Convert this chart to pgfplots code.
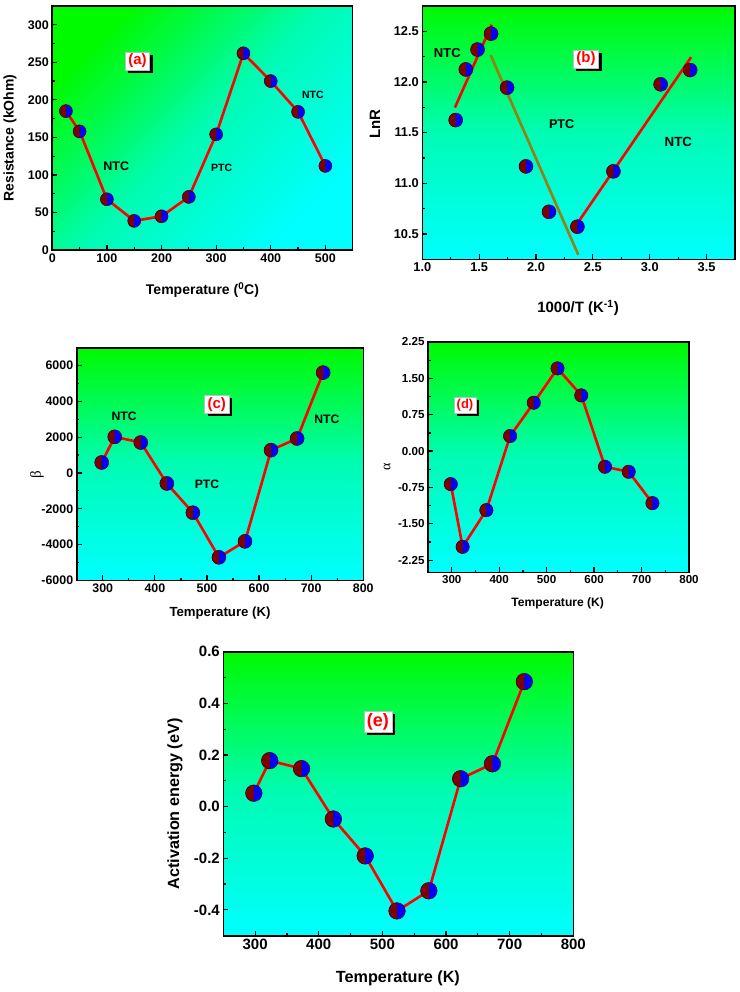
\documentclass[border=0pt]{standalone}
\usepackage{fontspec}
\setmainfont{Liberation Sans}
\newfontfamily\greekfont{Liberation Serif}
\usepackage{pgfplots}
\pgfplotsset{compat=1.18}
\usetikzlibrary{shadows}
\definecolor{gtop}{RGB}{0,250,0}
\definecolor{gmid}{RGB}{0,252,180}
\definecolor{cbot}{RGB}{0,255,255}
\definecolor{markred}{RGB}{125,0,0}
\definecolor{markblue}{RGB}{0,0,255}
\definecolor{markedge}{RGB}{60,0,20}
\definecolor{olivel}{RGB}{150,128,20}
\newcommand{\fs}[1]{\fontsize{#1}{#1}\selectfont}
\pgfdeclareplotmark{halfLR}{%
  \pgfpathcircle{\pgfpointorigin}{\pgfplotmarksize}%
  \pgfsetfillcolor{markblue}%
  \pgfusepathqfill
  \pgfpathmoveto{\pgfqpoint{0pt}{\pgfplotmarksize}}%
  \pgfpatharc{90}{270}{\pgfplotmarksize}%
  \pgfpathclose
  \pgfsetfillcolor{markred}%
  \pgfusepathqfill
  \pgfsetlinewidth{0.5pt}%
  \pgfsetstrokecolor{markedge}%
  \pgfpathcircle{\pgfpointorigin}{\pgfplotmarksize}%
  \pgfusepathqstroke
}
\tikzset{
  lab/.style={draw=gray!50, fill=white, text=red, inner xsep=3pt, inner ysep=2pt,
    drop shadow={shadow xshift=3pt, shadow yshift=-3pt, opacity=1, fill=black}},
}
\pgfplotsset{
  panel/.style={
    scale only axis, anchor=north west,
    tick align=inside, tick pos=left, minor tick num=1,
    major tick length=5pt, minor tick length=2.7pt,
    tick style={black, line width=1.2pt},
    axis line style={line width=1.6pt},
    /pgf/number format/assume math mode=true,
    /pgf/number format/1000 sep={},
    axis background/.style={shade, top color=gtop, bottom color=cbot, middle color=gmid},
    clip=false,
  },
  dat/.style={red, line width=2.6pt, mark=halfLR},
}
\begin{document}
\begin{tikzpicture}
\useasboundingbox (0,0) rectangle (739pt,-992pt);
\fill[white] (0,0) rectangle (739pt,-992pt);
% (a)
\begin{axis}[panel, at={(52.3pt,-6pt)}, width=300.4pt, height=244pt,
  xmin=0, xmax=550, ymin=0, ymax=325,
  xtick={0,100,...,500}, ytick={0,50,...,300},
  axis background/.style={shade, top color=gtop, bottom color=cbot, middle color=gmid, shading angle=45},
  tick label style={font=\bfseries\fs{12.5}},
  label style={font=\bfseries\fs{14}},
  xlabel={Temperature (\textsuperscript{0}C)}, ylabel={Resistance (kOhm)},
  xlabel style={at={(axis description cs:0.5,-0.164)}, anchor=center},
  ylabel style={at={(axis description cs:-0.141,0.459)}, anchor=center},
]
\addplot[dat, mark size=6.5pt] coordinates {(25,185) (50,158) (100,67.6) (150,38.8) (200,44.9) (250,70.7) (300,154) (350,262) (400,225) (450,184) (500,112)};
\node[font=\bfseries\fs{12.5}] at (axis cs:117,111) {NTC};
\node[font=\bfseries\fs{10.5}] at (axis cs:310,109) {PTC};
\node[font=\bfseries\fs{10.5}] at (axis cs:477,207) {NTC};
\node[lab, font=\bfseries\fs{15}] at (axis cs:156,252) {(a)};
\end{axis}
% (b)
\begin{axis}[panel, at={(422.3pt,-6pt)}, width=312.7pt, height=253.3pt,
  xmin=1, xmax=3.75, ymin=10.25, ymax=12.75,
  xtick={1,1.5,...,3.5}, ytick={10.5,11,...,12.5},
  xticklabel style={/pgf/number format/.cd, fixed, fixed zerofill, precision=1},
  yticklabel style={/pgf/number format/.cd, fixed, fixed zerofill, precision=1},
  tick label style={font=\bfseries\fs{12.8}},
  label style={font=\bfseries\fs{15}},
  xlabel={1000/T (K\textsuperscript{-1})}, ylabel={LnR},
  xlabel style={at={(axis description cs:0.498,-0.192)}, anchor=center},
  ylabel style={at={(axis description cs:-0.151,0.534)}, anchor=center},
]
\addplot[only marks, mark=halfLR, mark size=7pt] coordinates {(1.2937,11.624) (1.3831,12.124) (1.4859,12.32) (1.6051,12.477) (1.7452,11.944) (1.9120,11.167) (2.1142,10.719) (2.3641,10.572) (2.6810,11.118) (3.0960,11.977) (3.3557,12.118)};
\addplot[red, line width=2.6pt] coordinates {(1.287,11.748) (1.61,12.565)};
\addplot[olivel, line width=2.6pt] coordinates {(1.601,12.265) (2.372,10.294)};
\addplot[red, line width=2.6pt] coordinates {(2.364,10.605) (3.364,12.245)};
\node[font=\bfseries\fs{13}] at (axis cs:1.22,12.29) {NTC};
\node[font=\bfseries\fs{12.7}] at (axis cs:2.226,11.58) {PTC};
\node[font=\bfseries\fs{13.3}] at (axis cs:3.252,11.405) {NTC};
\node[lab, font=\bfseries\fs{15}] at (axis cs:2.44,12.226) {(b)};
\end{axis}
% (c)
\begin{axis}[panel, at={(76.7pt,-347.7pt)}, width=286.6pt, height=232.6pt,
  xmin=250, xmax=800, ymin=-6000, ymax=7000,
  xtick={300,400,...,800}, ytick={-6000,-4000,...,6000},
  tick label style={font=\bfseries\fs{12.4}},
  label style={font=\bfseries\fs{13.2}},
  xlabel={Temperature (K)}, ylabel={\greekfont\mdseries\fs{15}β},
  xlabel style={at={(axis description cs:0.5,-0.141)}, anchor=center},
  ylabel style={at={(axis description cs:-0.139,0.453)}, anchor=center},
]
\addplot[dat, mark size=7pt] coordinates {(298,586) (323,2019) (373,1702) (423,-586) (473,-2223) (523,-4716) (573,-3823) (623,1274) (673,1926) (723,5609)};
\node[font=\bfseries\fs{12.2}] at (axis cs:341,3172) {NTC};
\node[font=\bfseries\fs{12.2}] at (axis cs:500,-660) {PTC};
\node[font=\bfseries\fs{12.2}] at (axis cs:730,2986) {NTC};
\node[lab, font=\bfseries\fs{15}] at (axis cs:518.7,3842) {(c)};
\end{axis}
% (d)
\begin{axis}[panel, at={(428pt,-342pt)}, width=261pt, height=230.3pt,
  xmin=250, xmax=800, ymin=-2.5, ymax=2.25,
  xtick={300,400,...,800}, ytick={-2.25,-1.5,-0.75,0,0.75,1.5,2.25},
  yticklabel style={/pgf/number format/.cd, fixed, fixed zerofill, precision=2},
  tick label style={font=\bfseries\fs{11.6}},
  label style={font=\bfseries\fs{12.1}},
  xlabel={Temperature (K)}, ylabel={\greekfont\mdseries\fs{14}α},
  xlabel style={at={(axis description cs:0.497,-0.133)}, anchor=center},
  ylabel style={at={(axis description cs:-0.157,0.457)}, anchor=center},
]
\addplot[dat, mark size=6.7pt] coordinates {(298,-0.681) (323,-1.975) (373,-1.218) (423,0.310) (473,0.998) (523,1.706) (573,1.149) (623,-0.323) (673,-0.427) (723,-1.073)};
\node[lab, font=\bfseries\fs{13}] at (axis cs:328,0.943) {(d)};
\end{axis}
% (e)
\begin{axis}[panel, at={(223.3pt,-651.7pt)}, width=350pt, height=284pt,
  xmin=250, xmax=800, ymin=-0.5, ymax=0.6,
  xtick={300,400,...,800}, ytick={-0.4,-0.2,...,0.6},
  yticklabel style={/pgf/number format/.cd, fixed, fixed zerofill, precision=1},
  tick label style={font=\bfseries\fs{15}},
  label style={font=\bfseries\fs{16.2}},
  xlabel={Temperature (K)}, ylabel={Activation energy (eV)},
  xlabel style={at={(axis description cs:0.499,-0.149)}, anchor=center},
  ylabel style={at={(axis description cs:-0.138,0.464)}, anchor=center},
]
\addplot[dat, mark size=8.3pt] coordinates {(298,0.052) (323,0.178) (373,0.147) (423,-0.048) (473,-0.191) (523,-0.404) (573,-0.326) (623,0.108) (673,0.166) (723,0.484)};
\node[lab, font=\bfseries\fs{18}] at (axis cs:493,0.329) {(e)};
\end{axis}
\end{tikzpicture}
\end{document}
